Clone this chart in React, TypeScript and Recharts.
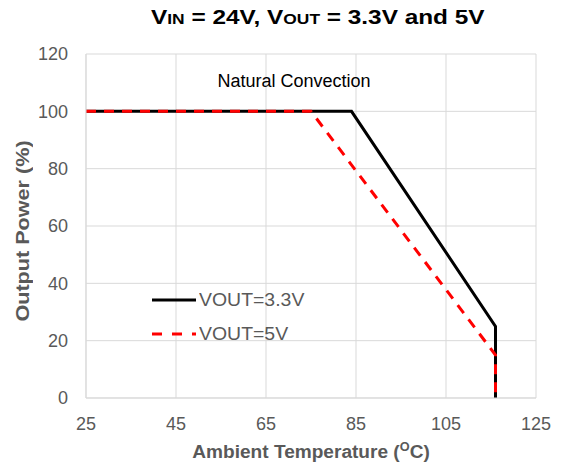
import { LineChart, Line, XAxis, YAxis, CartesianGrid } from "recharts";

// derating curves
const temps33 = [25, 84, 116, 116];
const power33 = [100, 100, 25, 0];
const temps5 = [25, 75, 116, 116];
const power5 = [100, 100, 15, 0];

const xTicks = [25, 45, 65, 85, 105, 125];
const yTicks = [0, 20, 40, 60, 80, 100, 120];

const series = [
  { name: "VOUT=3.3V", color: "#000000", dash: undefined as string | undefined, temps: temps33, power: power33 },
  { name: "VOUT=5V", color: "#FF0000", dash: "10 8", temps: temps5, power: power5 },
];

const FONT = "'Liberation Sans', Arial, sans-serif";
const GREY = "#595959";

function LegendBox() {
  return (
    <div style={{ position: "absolute", left: 151, top: 283, fontSize: 18, color: GREY }}>
      {series.map((s) => (
        <div key={s.name} style={{ display: "flex", alignItems: "center", height: 34 }}>
          <svg width={46} height={10}>
            <line x1={1} y1={5} x2={45} y2={5} stroke={s.color} strokeWidth={3} strokeDasharray={s.dash === undefined ? undefined : "10 10"} />
          </svg>
          <span style={{ marginLeft: 2, display: "inline-block", transform: "scaleX(1.08)", transformOrigin: "left" }}>{s.name}</span>
        </div>
      ))}
    </div>
  );
}

export default function App() {
  const tick = { fill: GREY, fontSize: 18, fontFamily: FONT };
  return (
    <div style={{ position: "relative", width: 564, height: 463, background: "#fff", fontFamily: FONT }}>
      <style>{"body{margin:0}"}</style>
      <div style={{ position: "absolute", left: 0, width: 636, top: 5, textAlign: "center", fontWeight: "bold", fontSize: 21, color: "#000" }}>
        <span style={{ display: "inline-block", transform: "scaleX(1.16)" }}>
          V<span style={{ fontSize: 15 }}>IN</span> = 24V, V<span style={{ fontSize: 15 }}>OUT</span> = 3.3V and 5V
        </span>
      </div>
      <LineChart width={564} height={463} data={[]} margin={{ top: 54, right: 28, bottom: 0, left: 0 }}>
        <CartesianGrid stroke="#D9D9D9" strokeWidth={1} />
        <XAxis
          type="number"
          dataKey="t"
          domain={[25, 125]}
          ticks={xTicks}
          allowDataOverflow
          height={65}
          tick={tick}
          tickLine={false}
          tickSize={0}
          tickMargin={19}
          axisLine={{ stroke: "#D9D9D9" }}
        />
        <YAxis
          type="number"
          dataKey="p"
          domain={[0, 120]}
          ticks={yTicks}
          width={86}
          tick={tick}
          tickLine={false}
          tickSize={0}
          tickMargin={18}
          axisLine={{ stroke: "#D9D9D9" }}
        />
        {series.map((s) => (
          <Line
            key={s.name}
            name={s.name}
            data={s.temps.map((t, i) => ({ t, p: s.power[i] }))}
            dataKey="p"
            type="linear"
            stroke={s.color}
            strokeWidth={3}
            strokeDasharray={s.dash}
            dot={false}
            activeDot={false}
            isAnimationActive={false}
          />
        ))}
      </LineChart>
      <LegendBox />
      <div style={{ position: "absolute", left: 204, width: 180, top: 71, textAlign: "center", fontSize: 18, color: "#000" }}>
        Natural Convection
      </div>
      <div style={{ position: "absolute", left: 86, width: 450, top: 440, textAlign: "center", fontSize: 18, fontWeight: "bold", color: GREY }}>
        <span style={{ display: "inline-block", transform: "scaleX(1.06)" }}>
          Ambient Temperature (<sup style={{ fontSize: 12 }}>O</sup>C)
        </span>
      </div>
      <div
        style={{
          position: "absolute",
          left: 23,
          top: 231,
          transform: "translate(-50%, -50%) rotate(-90deg)",
          whiteSpace: "nowrap",
          fontSize: 18,
          fontWeight: "bold",
          color: GREY,
        }}
      >
        <span style={{ display: "inline-block", transform: "scaleX(1.2)" }}>Output Power (%)</span>
      </div>
    </div>
  );
}
